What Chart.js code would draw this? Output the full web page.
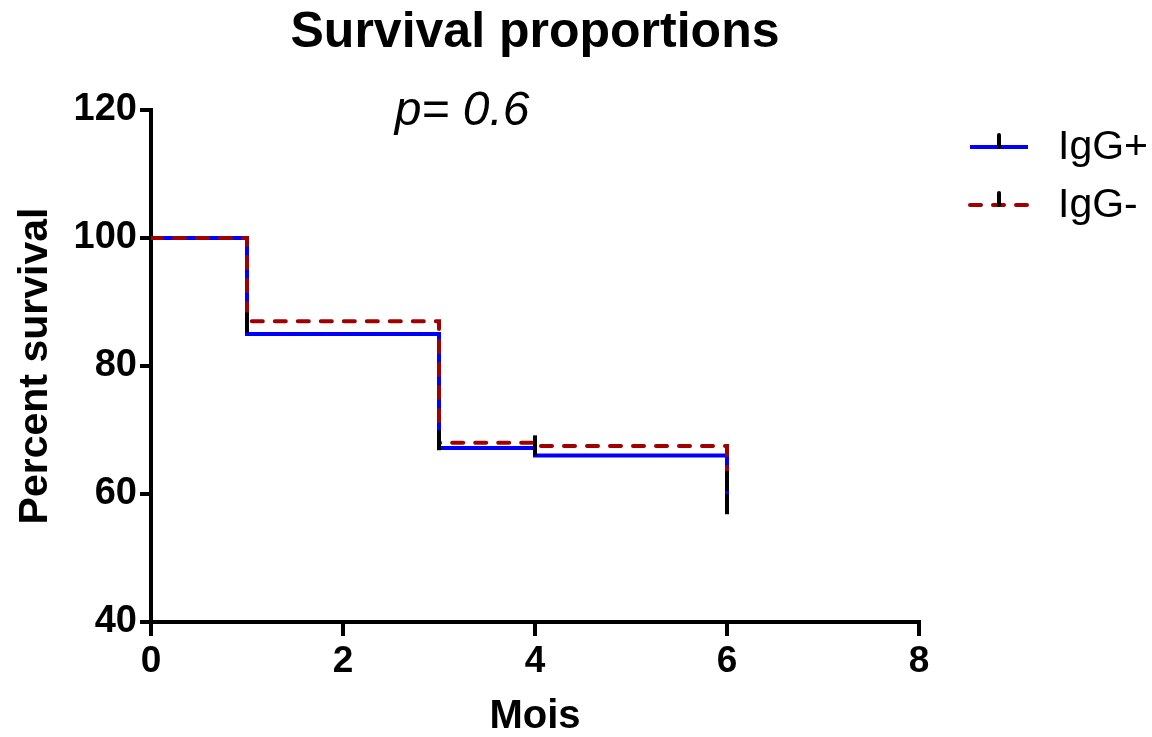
<!DOCTYPE html>
<html>
<head>
<meta charset="utf-8">
<script src="https://cdn.jsdelivr.net/npm/chart.js@4/dist/chart.umd.min.js"></script>
<style>
  html, body { margin: 0; padding: 0; background: #fff; }
  #wrap { width: 1152px; height: 737px; }
</style>
</head>
<body>
<div id="wrap"><canvas id="c" width="1152" height="737"></canvas></div>
<script>
// ---- data ----
const chartTitle = "Survival proportions";
const pValueText = "p= 0.6";
const seriesNames = ["IgG+", "IgG-"];
const igPosTimes = [0, 1, 3, 4, 6];
const igPosSurvival = [100, 85, 67.2, 66, 57.3];
const igNegTimes = [0, 1, 3, 4, 6];
const igNegSurvival = [100, 87, 68, 67.5, 63.3];
const censorTimes = [1, 3, 4, 6, 6];
const censorSurvival = [86.8, 68.4, 67.6, 62, 58.4];
const xTicks = [0, 2, 4, 6, 8];
const yTicks = [40, 60, 80, 100, 120];
const xTitle = "Mois";
const yTitle = "Percent survival";

const FONT = "'Liberation Sans', Arial, sans-serif";
Chart.defaults.font.family = FONT;
Chart.defaults.color = '#000';

const toPts = (xs, ys) => xs.map((x, i) => ({ x: x, y: ys[i] }));

const BLUE = '#0000ff';
const RED = '#a00000';

const decor = {
  id: 'decor',
  afterDraw(chart) {
    const ctx = chart.ctx;
    const ca = chart.chartArea;
    const xs = chart.scales.x;
    ctx.save();
    // title
    ctx.fillStyle = '#000';
    ctx.font = 'bold 50px ' + FONT;
    ctx.textAlign = 'center';
    ctx.textBaseline = 'middle';
    ctx.fillText(chartTitle, (ca.left + ca.right) / 2, 33);
    // p value
    ctx.font = 'italic 48px ' + FONT;
    ctx.textBaseline = 'alphabetic';
    ctx.fillText(pValueText, xs.getPixelForValue(3.24), 125);
    // legend
    const lx0 = ca.right + 51, lx1 = ca.right + 109, ly = [147, 205];
    chart.data.datasets.slice(0, 2).forEach((ds, i) => {
      ctx.beginPath();
      ctx.strokeStyle = ds.borderColor;
      ctx.lineWidth = 4;
      ctx.lineCap = ds.borderDash && ds.borderDash.length ? 'round' : 'butt';
      ctx.setLineDash(ds.borderDash || []);
      ctx.moveTo(lx0, ly[i]);
      ctx.lineTo(lx1, ly[i]);
      ctx.stroke();
      ctx.setLineDash([]);
      ctx.beginPath();
      ctx.strokeStyle = '#000';
      ctx.lineWidth = 4;
      ctx.lineCap = 'round';
      ctx.moveTo((lx0 + lx1) / 2, ly[i] - 12);
      ctx.lineTo((lx0 + lx1) / 2, ly[i]);
      ctx.stroke();
      ctx.fillStyle = '#000';
      ctx.font = '41px ' + FONT;
      ctx.textAlign = 'left';
      ctx.textBaseline = 'middle';
      ctx.fillText(ds.label, ca.right + 139, ly[i] + 1);
    });
    ctx.restore();
  }
};

new Chart(document.getElementById('c'), {
  type: 'line',
  data: {
    datasets: [
      {
        label: seriesNames[0],
        data: toPts(igPosTimes, igPosSurvival),
        borderColor: BLUE,
        borderWidth: 4,
        stepped: 'before',
        pointRadius: 0,
        fill: false,
        order: 2
      },
      {
        label: seriesNames[1],
        data: toPts(igNegTimes, igNegSurvival),
        borderColor: RED,
        borderWidth: 4,
        borderDash: [11, 12],
        borderCapStyle: 'round',
        stepped: 'before',
        pointRadius: 0,
        fill: false,
        order: 1
      },
      {
        label: 'censored',
        type: 'scatter',
        data: toPts(censorTimes, censorSurvival),
        showLine: false,
        pointStyle: 'line',
        rotation: 90,
        pointRadius: 10,
        borderColor: '#000',
        backgroundColor: '#000',
        borderWidth: 4,
        order: 0
      }
    ]
  },
  options: {
    responsive: false,
    animation: false,
    events: [],
    layout: { padding: { top: 110, right: 233, bottom: 0, left: 0 } },
    plugins: {
      legend: { display: false },
      title: { display: false },
      tooltip: { enabled: false }
    },
    scales: {
      x: {
        type: 'linear',
        min: xTicks[0],
        max: xTicks[xTicks.length - 1],
        afterBuildTicks: s => { s.ticks = xTicks.map(v => ({ value: v })); },
        afterFit: s => { s.height = 115; },
        grid: { drawOnChartArea: false, drawTicks: true, tickLength: 14, color: '#000', lineWidth: 4 },
        border: { color: '#000', width: 4 },
        ticks: { font: { size: 37, weight: 'bold', lineHeight: 1.2 }, padding: 4, color: '#000', maxRotation: 0 },
        title: { display: true, text: xTitle, font: { size: 40, weight: 'bold', lineHeight: 1.0 }, padding: 0, color: '#000' }
      },
      y: {
        type: 'linear',
        min: yTicks[0],
        max: yTicks[yTicks.length - 1],
        afterBuildTicks: s => { s.ticks = yTicks.map(v => ({ value: v })); },
        afterFit: s => { s.width = 151; },
        grid: { drawOnChartArea: false, drawTicks: true, tickLength: 11, color: '#000', lineWidth: 4 },
        border: { color: '#000', width: 4 },
        ticks: { font: { size: 38, weight: 'bold', lineHeight: 1.2 }, padding: 3, color: '#000' },
        title: { display: true, text: yTitle, font: { size: 41, weight: 'bold', lineHeight: 1.2 }, padding: { top: 11, bottom: 0 }, color: '#000' }
      }
    }
  },
  plugins: [decor]
});
</script>
</body>
</html>
